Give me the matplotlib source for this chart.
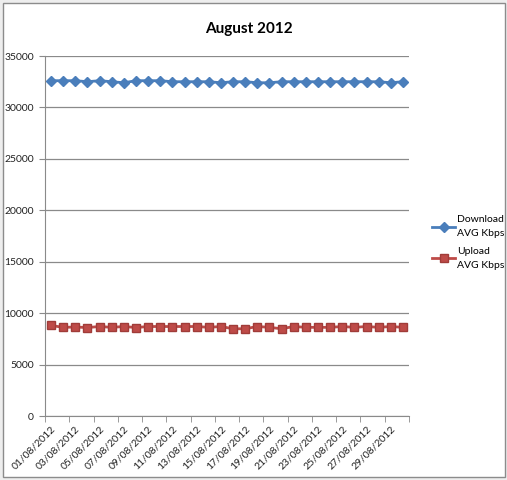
import matplotlib.pyplot as plt
import matplotlib.patches as mpatches
import numpy as np

days = ["%02d/08/2012" % d for d in range(1, 31)]

download_kbps = [32600, 32600, 32600, 32500, 32600, 32500, 32400, 32600, 32600, 32600,
                 32500, 32500, 32500, 32500, 32400, 32500, 32500, 32400, 32400, 32500,
                 32500, 32500, 32500, 32500, 32500, 32500, 32500, 32500, 32400, 32500]
upload_kbps = [8800, 8620, 8650, 8600, 8700, 8620, 8700, 8600, 8700, 8700,
               8700, 8700, 8700, 8620, 8700, 8480, 8480, 8700, 8620, 8480,
               8700, 8620, 8620, 8620, 8700, 8620, 8700, 8620, 8700, 8620]

plt.rcParams['font.family'] = ['Lato', 'DejaVu Sans']

W, H = 507, 480
fig = plt.figure(figsize=(W / 100, H / 100), dpi=100)
fig.patch.set_facecolor("#eeeeee")

# chart area box, kept behind the axes
fig.patches.append(mpatches.Rectangle((3 / W, 1 - 477 / H), 502 / W, 474 / H,
                                      transform=fig.transFigure, facecolor="white",
                                      edgecolor="#8c8c8c", linewidth=1, zorder=-10))

ax = fig.add_axes([45 / W, 1 - 416 / H, 364 / W, 360 / H])
ax.set_facecolor("none")

x = np.arange(len(days))
ax.plot(x, download_kbps, color="#4a7ebb", marker="D", markersize=5,
        linewidth=2, label="Download\nAVG Kbps", zorder=3)
ax.plot(x, upload_kbps, color="#be4b48", marker="s", markersize=6,
        markeredgecolor="#a03c39", linewidth=2, label="Upload\nAVG Kbps", zorder=3)

ax.set_xlim(-0.5, len(days) - 0.5)
ax.set_ylim(0, 35000)
ax.set_yticks(np.arange(0, 35001, 5000))
ax.yaxis.grid(True, color="#8a8a8a", linewidth=0.9)
ax.set_axisbelow(True)

ax.set_xticks(x[::2])
ax.set_xticklabels(days[::2], rotation=45, ha="right", va="top",
                   rotation_mode="anchor", fontsize=7.5, color="#222222")
ax.set_xticks(np.arange(-0.5, len(days), 2), minor=True)
ax.tick_params(axis="x", which="major", length=0, pad=6)
ax.tick_params(axis="x", which="minor", length=4, color="#8a8a8a", direction="out")
ax.tick_params(axis="y", length=4, color="#8a8a8a", labelsize=7.5,
               labelcolor="#222222", pad=4)

for s in ["top", "right"]:
    ax.spines[s].set_visible(False)
for s in ["left", "bottom"]:
    ax.spines[s].set_color("#8a8a8a")

fig.text(249 / W, 1 - 29 / H, "August 2012", ha="center", va="center",
         fontsize=11, fontweight="bold")

leg = fig.legend(loc="upper left", bbox_to_anchor=(423 / W, 1 - 206 / H),
                 frameon=False, fontsize=7.5, handlelength=2.2, labelspacing=0.8,
                 handletextpad=0.2)
for t in leg.get_texts():
    t.set_linespacing(1.7)

fig.savefig("out.png", dpi=100, facecolor=fig.get_facecolor())
